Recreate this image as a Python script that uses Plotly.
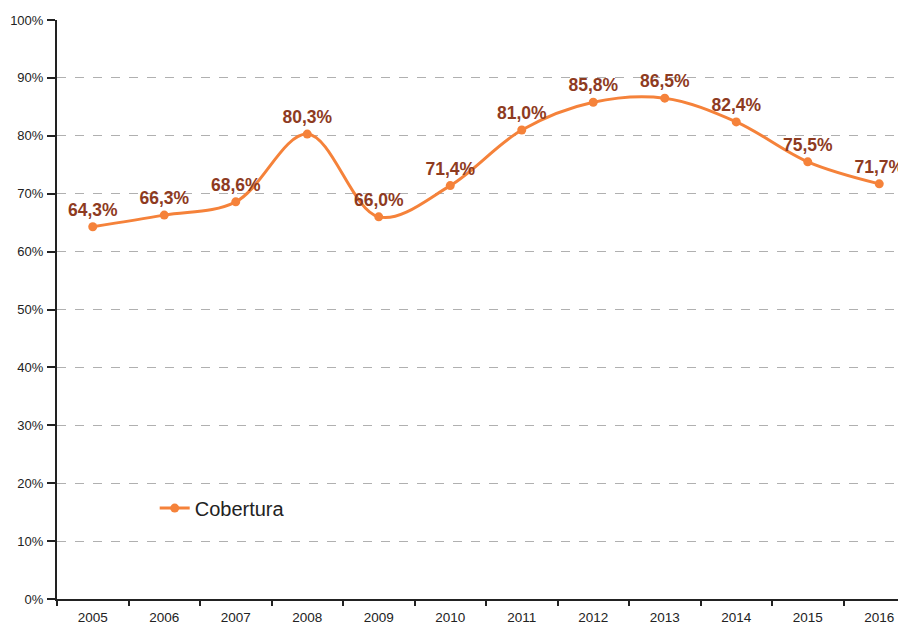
import plotly.graph_objects as go

years = ["2005", "2006", "2007", "2008", "2009", "2010", "2011", "2012", "2013", "2014", "2015", "2016"]
cobertura = [64.3, 66.3, 68.6, 80.3, 66.0, 71.4, 81.0, 85.8, 86.5, 82.4, 75.5, 71.7]
labels = [f"{v:.1f}%".replace(".", ",") for v in cobertura]
y_ticks = list(range(0, 101, 10))
y_ticklabels = [f"{v}%" for v in y_ticks]

lab_font = "Liberation Sans, Arial, sans-serif"

fig = go.Figure()
fig.add_trace(go.Scatter(
    x=years, y=cobertura, name="Cobertura",
    mode="lines+markers+text",
    line=dict(color="#F5823A", width=3, shape="spline", smoothing=1),
    marker=dict(color="#F5823A", size=9),
    text=labels, textposition="top center",
    textfont=dict(family=lab_font, size=17.5, color="#8E3B1F", weight="bold"),
    cliponaxis=False,
))

fig.update_layout(
    width=906, height=624,
    margin=dict(l=49, r=0, t=12, b=33),
    plot_bgcolor="white", paper_bgcolor="white",
    showlegend=True,
    legend=dict(x=0.114, y=0.157, xanchor="left", yanchor="middle",
                font=dict(family=lab_font, size=20, color="#222"),
                bgcolor="rgba(0,0,0,0)", itemwidth=30),
    xaxis=dict(
        type="category", range=[-0.5, 11.486], automargin=False,
        showline=True, linecolor="#222", linewidth=2,
        ticks="outside", tickson="boundaries", ticklen=5, tickcolor="#222", tickwidth=2,
        ticklabelstandoff=5,
        showgrid=False,
        tickfont=dict(family=lab_font, size=13.5, color="#222"),
    ),
    yaxis=dict(
        range=[0, 100], tickvals=y_ticks, ticktext=y_ticklabels, automargin=False,
        showline=True, linecolor="#222", linewidth=2,
        ticks="outside", ticklen=8, tickcolor="#222", tickwidth=2,
        ticklabelstandoff=1,
        showgrid=True, gridcolor="#B0B0B0", griddash="dash", gridwidth=1,
        zeroline=False,
        tickfont=dict(family=lab_font, size=13, color="#222"),
    ),
)

fig.write_html("out.html")
